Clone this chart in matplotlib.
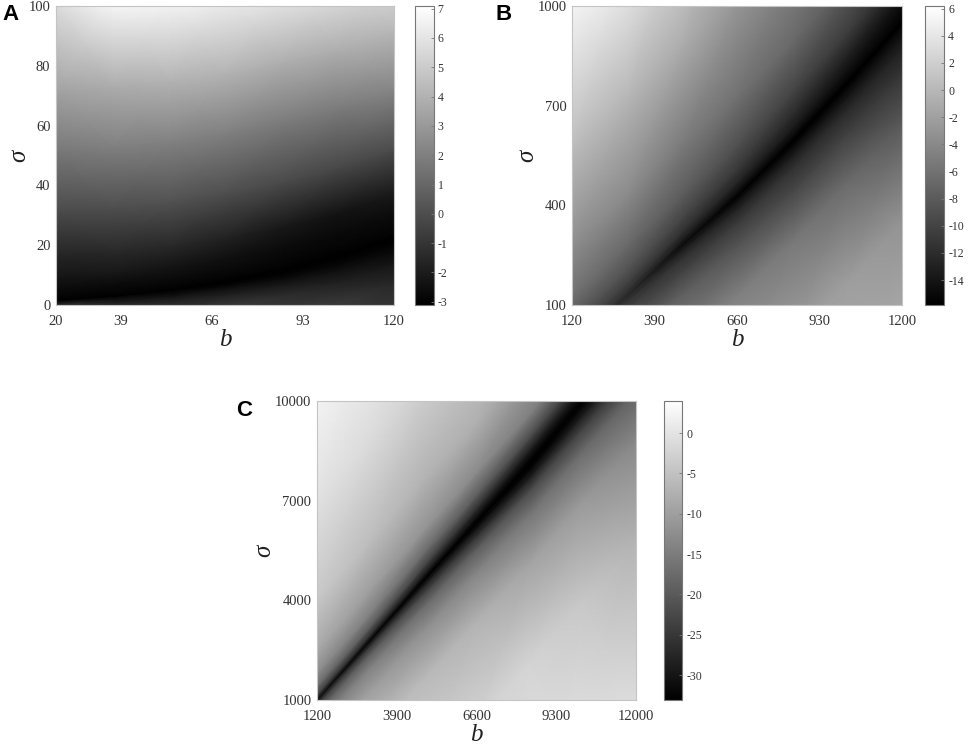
import numpy as np
import matplotlib
matplotlib.use("Agg")
from matplotlib import pyplot as plt

plt.rcParams["font.family"] = ["Liberation Serif", "DejaVu Serif"]
plt.rcParams["axes.unicode_minus"] = False

WIDTH, HEIGHT = 969, 747

# Panel A: values read per column, rows are sigma offsets from the dark ridge
a_b = [20, 37, 54, 70, 87, 103, 120]
a_ridge = [1.5, 3, 5, 7.5, 11, 15.5, 22]
a_offset = [-30, -15, -8, -4, -2, -1, 0, 1, 2, 4, 8, 15, 30, 50, 70, 100]
a_values = [
    [-0.6, -0.6, -0.6, -0.6, -0.6, -0.5, -0.6],
    [-0.6, -0.6, -0.6, -0.6, -0.6, -0.8, -1.5],
    [-0.6, -0.7, -0.8, -0.8, -1.3, -1.8, -2.3],
    [-0.6, -1.0, -1.6, -1.9, -2.2, -2.5, -2.75],
    [-0.8, -2.0, -2.4, -2.5, -2.75, -2.85, -2.95],
    [-1.8, -2.5, -2.75, -2.85, -2.95, -2.95, -3.0],
    [-3.05, -3.05, -3.05, -3.05, -3.05, -3.05, -3.05],
    [-2.95, -2.95, -2.95, -3.0, -3.05, -3.05, -3.05],
    [-2.85, -2.85, -2.85, -2.9, -2.95, -3.0, -2.95],
    [-2.65, -2.65, -2.65, -2.75, -2.85, -2.9, -2.85],
    [-2.25, -2.15, -2.25, -2.45, -2.65, -2.75, -2.65],
    [-1.65, -1.45, -1.45, -1.75, -2.15, -2.35, -2.15],
    [-0.1, 0.1, 0.2, 0.05, -0.15, -0.25, -0.1],
    [1.7, 2.0, 2.1, 2.0, 1.8, 1.8, 2.2],
    [3.35, 3.75, 4.05, 4.05, 3.85, 3.9, 4.25],
    [5.8, 7.0, 7.1, 6.9, 6.9, 6.9, 7.2],
]
a_xticks = [20, 39, 66, 93, 120]
a_yticks = [0, 20, 40, 60, 80, 100]
a_cticks = [-3, -2, -1, 0, 1, 2, 3, 4, 5, 6, 7]

# Panel B
b_b = [120, 300, 480, 660, 840, 1020, 1200]
b_ridge = [-20, 128, 280, 427, 590, 767, 952]
b_offset = [-1100, -600, -300, -150, -80, -40, -15, 0, 15, 40, 80, 150, 300, 600, 1100]
b_values = [
    [0.7, 0.0, 0.0, 0.0, 0.0, 0.0, 0.0],
    [-1.5, -2.0, -2.0, -1.7, -2.0, -2.2, -3.1],
    [-4.4, -4.4, -4.8, -4.8, -5.5, -6.6, -8.3],
    [-7.0, -7.0, -7.5, -8.6, -9.7, -10.3, -11.4],
    [-8.8, -9.2, -10.1, -10.8, -11.6, -12.3, -13.0],
    [-9.7, -10.3, -11.6, -12.8, -13.6, -14.1, -14.3],
    [-10.3, -11.4, -13.4, -14.5, -15.0, -15.2, -15.2],
    [-11.0, -12.3, -14.7, -15.6, -15.84, -15.84, -15.84],
    [-10.3, -11.4, -13.4, -14.5, -15.0, -15.2, -15.4],
    [-9.5, -10.1, -11.6, -12.8, -13.6, -14.3, -15.0],
    [-8.1, -8.6, -9.9, -11.0, -12.1, -13.0, -14.1],
    [-6.1, -6.8, -7.9, -9.0, -9.9, -10.6, -11.9],
    [-3.7, -3.9, -5.3, -6.1, -6.8, -7.9, -9.2],
    [0.5, 0.0, -1.0, -2.6, -3.7, -4.8, -5.9],
    [6.2, 6.2, 4.4, 1.8, -0.4, -1.5, -2.6],
]
b_xticks = [120, 390, 660, 930, 1200]
b_yticks = [100, 400, 700, 1000]
b_cticks = [-14, -12, -10, -8, -6, -4, -2, 0, 2, 4, 6]

# Panel C
c_b = [1200, 3000, 4800, 6600, 8400, 10200, 12000]
c_ridge = [1000, 2800, 4600, 6350, 8100, 10000, 11800]
c_offset = [-11000, -6000, -3000, -1500, -800, -400, -150, 0, 150, 400, 800, 1500, 3000, 6000, 11000]
c_values = [
    [1.0, 1.0, 1.0, 0.7, 0.7, 0.7, -0.8],
    [-1.2, -1.6, -1.9, -2.3, -2.3, -4.1, -7.1],
    [-4.1, -4.9, -6.0, -7.1, -9.3, -10.8, -13.4],
    [-9.0, -10.1, -12.3, -13.8, -16.0, -17.5, -18.9],
    [-13.8, -14.5, -17.5, -19.7, -22.3, -23.8, -24.9],
    [-18.2, -19.7, -23.4, -26.3, -28.9, -29.3, -28.6],
    [-23.8, -26.3, -29.3, -31.2, -32.3, -31.9, -30.8],
    [-30.8, -32.3, -33.0, -33.0, -33.0, -32.6, -31.9],
    [-23.8, -26.3, -29.3, -31.2, -32.3, -31.9, -31.2],
    [-17.5, -19.7, -23.4, -26.3, -28.9, -29.3, -29.3],
    [-12.7, -14.5, -17.5, -19.7, -22.3, -23.8, -25.6],
    [-8.6, -10.1, -11.5, -13.0, -14.5, -16.4, -18.2],
    [-4.1, -5.6, -7.1, -7.5, -10.1, -10.8, -12.7],
    [-0.4, -1.2, -2.7, -3.4, -5.3, -7.1, -9.0],
    [7.0, 2.9, 2.2, 0.3, -1.6, -3.4, -5.3],
]
c_xticks = [1200, 3900, 6600, 9300, 12000]
c_yticks = [1000, 4000, 7000, 10000]
c_cticks = [-30, -25, -20, -15, -10, -5, 0]


def px_axes(fig, left, top, right, bottom):
    return fig.add_axes([
        left / WIDTH,
        1 - bottom / HEIGHT,
        (right - left) / WIDTH,
        (bottom - top) / HEIGHT,
    ])


def draw_panel(fig, letter, letter_xy, box, cbar_box, ylabel_x, b, ridge, offset, values,
               xticks, yticks, cticks, clim):
    ax = px_axes(fig, *box)
    bb = np.array(b, dtype=float)
    off = np.array(offset, dtype=float)
    X, Y = np.meshgrid(bb, off)
    Y = Y + np.array(ridge, dtype=float)
    mesh = ax.pcolormesh(X, Y, np.array(values), shading="gouraud", cmap="gray",
                         vmin=clim[0], vmax=clim[1])
    ax.set_xlim(xticks[0], xticks[-1])
    ax.set_ylim(yticks[0], yticks[-1])
    ax.set_xticks(xticks)
    ax.set_yticks(yticks)
    ax.tick_params(length=0, labelsize=10.5, labelcolor="#333333")
    ax.tick_params(axis="x", pad=7)
    ax.tick_params(axis="y", pad=4)
    ax.set_xlabel("b", fontstyle="italic", fontsize=18, color="#222222", labelpad=1)
    ax.set_ylabel("σ", fontstyle="italic", fontsize=18, color="#222222", va="center")
    ax.yaxis.set_label_coords((ylabel_x - box[0]) / (box[2] - box[0]), 0.5)
    for spine in ax.spines.values():
        spine.set_color("#c4c4c4")
        spine.set_linewidth(0.8)

    cax = px_axes(fig, *cbar_box)
    cbar = fig.colorbar(mesh, cax=cax)
    cbar.set_ticks(cticks)
    cbar.ax.tick_params(direction="in", length=2, width=0.6, color="#777777",
                        labelsize=8.5, labelcolor="#333333", pad=3)
    cbar.outline.set_edgecolor("#777777")
    cbar.outline.set_linewidth(0.8)

    fig.text(letter_xy[0] / WIDTH, 1 - letter_xy[1] / HEIGHT, letter,
             family="Liberation Sans", fontweight="bold", fontsize=16, color="black",
             ha="left", va="center")


fig = plt.figure(figsize=(WIDTH / 100, HEIGHT / 100), dpi=100)

draw_panel(fig, "A", (2, 14), (56, 6, 394, 305), (414.5, 6, 433.5, 305), 19,
           a_b, a_ridge, a_offset, a_values, a_xticks, a_yticks, a_cticks, (-3.11, 7.09))
draw_panel(fig, "B", (496, 14), (572, 6, 902, 305), (925, 6, 944, 305), 527,
           b_b, b_ridge, b_offset, b_values, b_xticks, b_yticks, b_cticks, (-15.84, 6.2))
draw_panel(fig, "C", (236, 411), (317, 401, 636, 700), (664, 400.5, 682.5, 700), 264,
           c_b, c_ridge, c_offset, c_values, c_xticks, c_yticks, c_cticks, (-33.1, 4.05))

fig.savefig("out.png", dpi=100)
plt.close(fig)
